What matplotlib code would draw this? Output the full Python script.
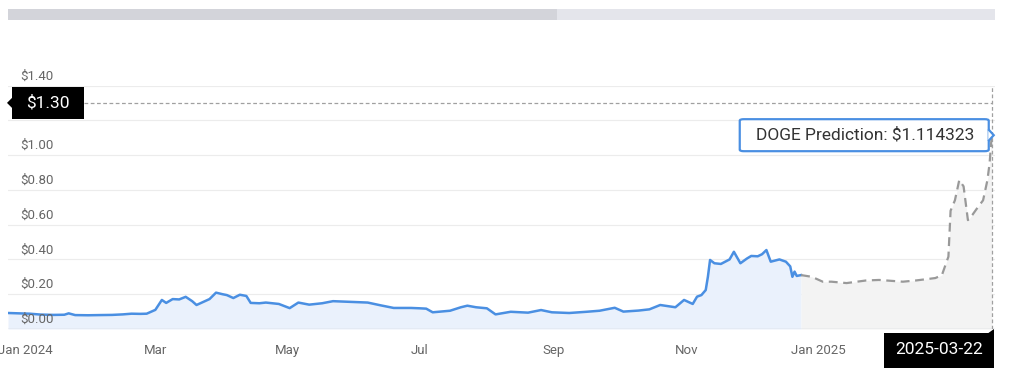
import pandas as pd
import matplotlib
matplotlib.use("Agg")
import matplotlib.pyplot as plt
from matplotlib.patches import Rectangle, Polygon, FancyBboxPatch
from matplotlib.transforms import blended_transform_factory

plt.rcParams['font.family'] = ['Roboto', 'DejaVu Sans']

# Historic DOGE price
hist_dates = ["2023-12-24", "2023-12-29", "2024-01-03", "2024-01-08", "2024-01-14", "2024-01-19",
              "2024-01-21", "2024-01-24", "2024-01-30", "2024-02-04", "2024-02-10", "2024-02-15",
              "2024-02-19", "2024-02-23", "2024-02-26", "2024-03-01", "2024-03-04", "2024-03-06",
              "2024-03-09", "2024-03-12", "2024-03-15", "2024-03-18", "2024-03-20", "2024-03-23",
              "2024-03-26", "2024-03-29", "2024-04-01", "2024-04-03", "2024-04-06", "2024-04-09",
              "2024-04-12", "2024-04-14", "2024-04-18", "2024-04-21", "2024-04-27", "2024-05-02",
              "2024-05-06", "2024-05-11", "2024-05-17", "2024-05-22", "2024-05-30", "2024-06-07",
              "2024-06-13", "2024-06-19", "2024-06-27", "2024-07-01", "2024-07-04", "2024-07-07",
              "2024-07-15", "2024-07-20", "2024-07-23", "2024-07-27", "2024-08-01", "2024-08-05",
              "2024-08-12", "2024-08-20", "2024-08-26", "2024-08-31", "2024-09-08", "2024-09-16",
              "2024-09-22", "2024-09-29", "2024-10-03", "2024-10-10", "2024-10-15", "2024-10-20",
              "2024-10-27", "2024-10-31", "2024-11-04", "2024-11-06", "2024-11-08", "2024-11-10",
              "2024-11-11", "2024-11-12", "2024-11-14", "2024-11-17", "2024-11-19", "2024-11-21",
              "2024-11-23", "2024-11-26", "2024-11-29", "2024-12-01", "2024-12-04", "2024-12-06",
              "2024-12-08", "2024-12-10", "2024-12-14", "2024-12-17", "2024-12-19", "2024-12-20",
              "2024-12-21", "2024-12-22", "2024-12-24"]
hist_prices = [0.092, 0.090, 0.088, 0.083, 0.081, 0.082,
               0.090, 0.080, 0.079, 0.080, 0.081, 0.084,
               0.088, 0.087, 0.088, 0.110, 0.167, 0.150,
               0.172, 0.170, 0.185, 0.160, 0.138, 0.155,
               0.172, 0.209, 0.200, 0.195, 0.178, 0.197,
               0.190, 0.150, 0.148, 0.152, 0.144, 0.120,
               0.152, 0.140, 0.148, 0.160, 0.156, 0.152,
               0.136, 0.121, 0.121, 0.119, 0.117, 0.096,
               0.105, 0.125, 0.134, 0.125, 0.119, 0.084,
               0.099, 0.094, 0.109, 0.096, 0.092, 0.099,
               0.105, 0.122, 0.100, 0.106, 0.113, 0.138,
               0.125, 0.167, 0.144, 0.186, 0.195, 0.224,
               0.300, 0.397, 0.378, 0.374, 0.387, 0.400,
               0.444, 0.378, 0.405, 0.420, 0.418, 0.430,
               0.454, 0.387, 0.400, 0.387, 0.360, 0.300,
               0.330, 0.305, 0.310]

# Prediction
pred_dates = ["2024-12-24", "2024-12-29", "2025-01-03", "2025-01-07", "2025-01-14", "2025-01-23",
              "2025-01-29", "2025-02-09", "2025-02-15", "2025-02-24", "2025-02-27", "2025-03-02",
              "2025-03-03", "2025-03-05", "2025-03-07", "2025-03-09", "2025-03-11", "2025-03-13",
              "2025-03-15", "2025-03-18", "2025-03-20", "2025-03-21", "2025-03-22"]
pred_prices = [0.310, 0.300, 0.272, 0.272, 0.264, 0.279,
               0.282, 0.272, 0.279, 0.293, 0.310, 0.416,
               0.680, 0.740, 0.856, 0.820, 0.626, 0.655,
               0.690, 0.740, 0.856, 0.952, 1.114323]

y_ticks = [0.0, 0.2, 0.4, 0.6, 0.8, 1.0, 1.2, 1.4]
y_labeled = [0.0, 0.2, 0.4, 0.6, 0.8, 1.0, 1.4]   # $1.20 sits under the cursor label
x_ticks = ["2024-01-01", "2024-03-01", "2024-05-01", "2024-07-01", "2024-09-01", "2024-11-01", "2025-01-01"]
x_tick_labels = ["Jan 2024", "Mar", "May", "Jul", "Sep", "Nov", "Jan 2025"]
cursor_price = 1.30

hist_d = pd.to_datetime(hist_dates)
pred_d = pd.to_datetime(pred_dates)
narrow = ['Liberation Sans Narrow', 'Roboto', 'DejaVu Sans']

W, H = 1024, 383
fig = plt.figure(figsize=(W / 100, H / 100), dpi=100)
fig.patch.set_facecolor("white")
ax = fig.add_axes([8 / W, 54 / H, 987 / W, 243.5 / H])

def to_fig(xd, yd):
    # display pixels -> figure fraction
    return fig.transFigure.inverted().transform((xd, yd))

# top range slider bar
fig.patches.append(Rectangle((8 / W, 1 - 20 / H), 549 / W, 11 / H, transform=fig.transFigure,
                             facecolor="#d3d4da", edgecolor="none"))
fig.patches.append(Rectangle((557 / W, 1 - 20 / H), 438 / W, 11 / H, transform=fig.transFigure,
                             facecolor="#e4e5eb", edgecolor="none"))

# history
ax.fill_between(hist_d, hist_prices, 0, color="#eaf1fc", lw=0, zorder=1)
ax.plot(hist_d, hist_prices, color="#4a8fe2", lw=1.8, zorder=3)

# prediction
ax.fill_between(pred_d, pred_prices, 0, color="#f3f3f3", lw=0, zorder=1)
ax.plot(pred_d, pred_prices, color="#999999", lw=1.6, ls=(0, (4, 2.5)), zorder=3)

ax.set_xlim(pd.Timestamp("2023-12-24"), pd.Timestamp("2025-03-23 12:00"))
ax.set_ylim(0, 1.4)

# grid
for t in y_ticks[1:]:
    ax.axhline(t, color="#ececec", lw=0.8, zorder=0)
ax.axhline(0, color="#ccd0d8", lw=1, zorder=2)

for s in ax.spines.values():
    s.set_visible(False)
ax.set_yticks([])
ax.set_xticks(pd.to_datetime(x_ticks))
ax.set_xticklabels(x_tick_labels, fontsize=9.5, color="#666666", family=narrow)
ax.tick_params(axis="x", length=0, pad=11)

# y labels inside the plot
lab_tr = blended_transform_factory(ax.transAxes, ax.transData)
for t in y_labeled:
    ax.annotate(f"${t:.2f}", xy=(0.012, t), xycoords=lab_tr, xytext=(0, 3),
                textcoords="offset pixels", ha="left", va="bottom", fontsize=9.5,
                color="#666666", family=narrow, zorder=4)

last_d = pred_d[-1]
last_p = pred_prices[-1]
lx, ly = ax.transData.transform((ax.xaxis.convert_units(last_d), last_p))
_, cy = ax.transData.transform((0, cursor_price))
_, by = ax.transData.transform((0, 0))

# crosshair
ax.axvline(last_d, color="#a0a0a0", lw=0.9, ls=(0, (3, 2)), zorder=4)
x0f, _ = to_fig(84, cy)
ax.axhline(cursor_price, xmin=(84 - 8) / 987, xmax=(lx - 8) / 987, color="#a0a0a0",
           lw=0.9, ls=(0, (3, 2)), zorder=4)

# $1.30 label on the y axis
bx, byy = to_fig(12, cy - 16)
fig.patches.append(Rectangle((bx, byy), 72 / W, 32 / H, transform=fig.transFigure,
                             facecolor="black", edgecolor="none", zorder=6))
tri = [to_fig(7, cy), to_fig(13, cy + 6), to_fig(13, cy - 6)]
fig.patches.append(Polygon(tri, closed=True, transform=fig.transFigure,
                           facecolor="black", edgecolor="none", zorder=6))
tx, ty = to_fig(48, cy)
fig.text(tx, ty, f"${cursor_price:.2f}", ha="center", va="center", fontsize=12.5,
         color="white", zorder=7)

# tooltip
tb_x, tb_y = to_fig(lx - 252, ly - 16)
fig.patches.append(FancyBboxPatch((tb_x, tb_y), 249 / W, 32 / H,
                                  boxstyle="round,pad=0,rounding_size=0.004",
                                  transform=fig.transFigure, facecolor="white",
                                  edgecolor="#4a8fe2", lw=1.6, zorder=7))
ptr = [to_fig(lx - 3.5, ly + 6), to_fig(lx + 2, ly), to_fig(lx - 3.5, ly - 6)]
fig.patches.append(Polygon(ptr, closed=False, transform=fig.transFigure, facecolor="white",
                           edgecolor="#4a8fe2", lw=1.6, zorder=7))
tx, ty = to_fig(lx - 127, ly)
fig.text(tx, ty, f"DOGE Prediction: ${last_p:.6f}", ha="center", va="center",
         fontsize=12.5, color="#333333", zorder=8)

# date label under the x axis
dx, dy = to_fig(lx - 108, by - 39)
fig.patches.append(Rectangle((dx, dy), 110 / W, 35 / H, transform=fig.transFigure,
                             facecolor="black", edgecolor="none", zorder=6))
notch = [to_fig(lx + 2, by), to_fig(lx + 2, by - 5), to_fig(lx - 5, by - 5)]
fig.patches.append(Polygon(notch, closed=True, transform=fig.transFigure,
                           facecolor="black", edgecolor="none", zorder=6))
tx, ty = to_fig(lx - 53, by - 21)
fig.text(tx, ty, last_d.strftime("%Y-%m-%d"), ha="center", va="center", fontsize=12.5,
         color="white", zorder=7)

fig.savefig("out.png", dpi=100, facecolor="white")
